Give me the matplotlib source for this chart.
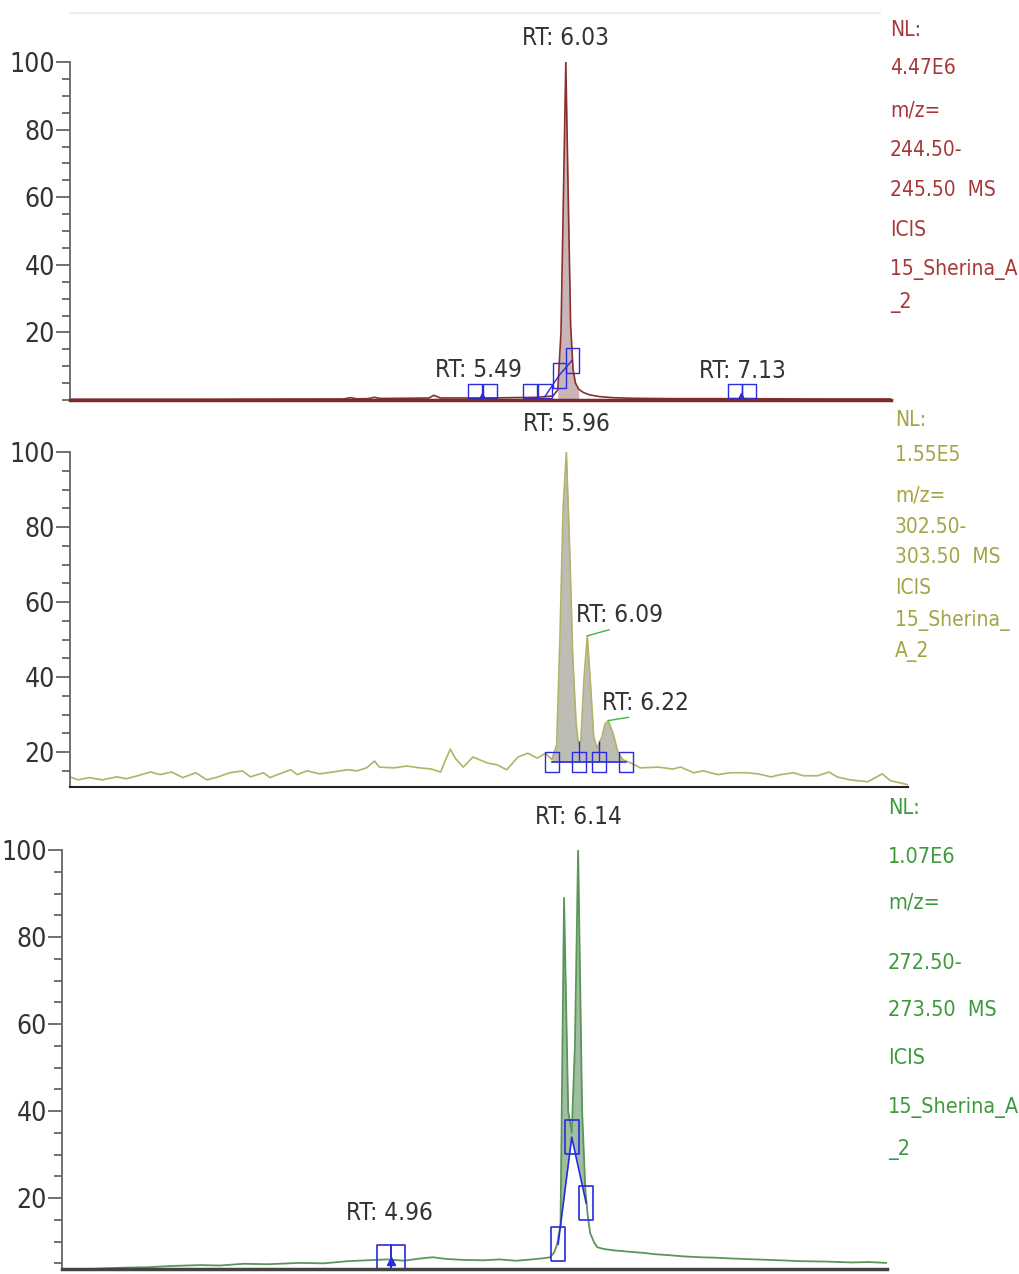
import numpy as np
import matplotlib.pyplot as plt
from matplotlib.lines import Line2D
from matplotlib.ticker import MultipleLocator

plt.rcParams['font.family'] = ['DejaVu Sans']
plt.rcParams['font.stretch'] = 'condensed'

W, H = 1019, 1274

# ---- panel 1: m/z 244.50-245.50
t1 = [2.95, 3.3, 3.7, 4.1, 4.5, 4.65, 4.69, 4.73, 4.8, 4.84, 4.88, 5.0, 5.1, 5.18, 5.21,
      5.25, 5.35, 5.45, 5.55, 5.7, 5.85, 5.95, 5.98, 6.0, 6.015, 6.03, 6.045, 6.06, 6.075,
      6.09, 6.11, 6.14, 6.18, 6.24, 6.32, 6.45, 6.7, 7.0, 7.3, 7.6, 7.9, 8.05]
i1 = [0.2, 0.2, 0.2, 0.25, 0.3, 0.3, 0.7, 0.35, 0.4, 0.8, 0.45, 0.5, 0.55, 0.6, 1.4,
      0.6, 0.6, 0.6, 0.6, 0.7, 0.8, 1.2, 3, 20, 60, 100, 60, 22, 9,
      5, 3.2, 2.2, 1.5, 1.0, 0.7, 0.5, 0.4, 0.4, 0.35, 0.3, 0.3, 0.3]
rt1 = [5.49, 6.03, 7.13]
rt1_y = [0.6, 100, 0.4]
box1_t = [5.465, 5.56, 5.806, 5.90, 7.08, 7.17]
box1_y = [2.7, 2.7, 2.7, 2.7, 2.7, 2.7]
box1_peak_t = [5.99, 6.07]
box1_peak_y = [7.4, 11.8]
info1 = ['NL:', '4.47E6', 'm/z=', '244.50-', '245.50  MS', 'ICIS', '15_Sherina_A', '_2']

# ---- panel 2: m/z 302.50-303.50
t2 = [2.88, 2.93, 3.00, 3.08, 3.17, 3.23, 3.30, 3.38, 3.44, 3.51, 3.58, 3.66, 3.73, 3.80,
      3.87, 3.95, 4.00, 4.08, 4.12, 4.18, 4.25, 4.29, 4.35, 4.43, 4.51, 4.60, 4.66, 4.72,
      4.77, 4.80, 4.89, 4.97, 5.05, 5.12, 5.18, 5.21, 5.24, 5.27, 5.32, 5.38, 5.47, 5.53,
      5.59, 5.66, 5.72, 5.78, 5.83, 5.87, 5.90, 5.92, 5.94, 5.96, 5.98, 6.00, 6.02, 6.035,
      6.05, 6.07, 6.09, 6.11, 6.13, 6.15, 6.18, 6.20, 6.22, 6.25, 6.28, 6.31, 6.36, 6.42,
      6.53, 6.62, 6.67, 6.75, 6.81, 6.90, 6.98, 7.08, 7.15, 7.23, 7.29, 7.37, 7.43, 7.52,
      7.59, 7.64, 7.72, 7.83, 7.92, 7.97, 8.05, 8.08]
i2 = [13.4, 12.6, 13.2, 12.6, 13.4, 12.9, 13.7, 14.7, 14.0, 14.7, 13.2, 14.5, 12.6, 13.4,
      14.5, 15.0, 13.4, 14.5, 13.2, 14.2, 15.3, 14.0, 15.0, 14.2, 14.7, 15.3, 15.0, 15.8,
      17.6, 16.0, 15.8, 16.3, 15.8, 15.5, 14.7, 17.9, 20.8, 18.4, 16.0, 18.7, 17.1, 16.6,
      15.3, 18.7, 19.7, 18.4, 19.7, 18.0, 22, 50, 85, 100, 75, 45, 28, 22,
      23, 40, 51, 38, 24, 21, 24, 27.5, 28.4, 25, 20, 18, 17.1, 15.8,
      16.0, 15.5, 16.0, 14.5, 15.0, 14.0, 14.5, 14.5, 14.2, 13.4, 14.0, 14.5, 13.7, 13.7,
      14.7, 13.4, 12.6, 12.1, 14.2, 12.4, 11.6, 11.3]
rt2 = [5.96, 6.09, 6.22]
rt2_y = [100, 51, 28.4]
box2_t = [5.87, 6.04, 6.16, 6.33]
box2_y = [17.4, 17.4, 17.4, 17.4]
info2 = ['NL:', '1.55E5', 'm/z=', '302.50-', '303.50  MS', 'ICIS', '15_Sherina_', 'A_2']

# ---- panel 3: m/z 272.50-273.50
t3 = [2.915, 3.0, 3.15, 3.3, 3.45, 3.6, 3.78, 3.9, 4.05, 4.2, 4.4, 4.55, 4.7, 4.82, 4.95,
      5.05, 5.15, 5.23, 5.32, 5.42, 5.55, 5.65, 5.75, 5.85, 5.93, 5.965, 5.99, 6.01, 6.03,
      6.052, 6.078, 6.10, 6.12, 6.14, 6.165, 6.185, 6.20, 6.215, 6.24, 6.26, 6.30, 6.36,
      6.42, 6.48, 6.55, 6.62, 6.70, 6.80, 6.90, 7.0, 7.11, 7.25, 7.4, 7.53, 7.7, 7.85,
      7.95, 8.07]
i3 = [3.4, 3.5, 3.8, 4.0, 4.1, 4.4, 4.6, 4.5, 4.9, 4.8, 5.1, 5.0, 5.5, 5.7, 5.9,
      5.6, 6.1, 6.4, 6.0, 5.8, 5.7, 5.9, 5.6, 5.9, 6.2, 6.4, 7.5, 9.5, 14,
      89, 40, 35, 55, 100, 40, 22, 16, 12, 9.8, 8.7, 8.3, 8.0,
      7.8, 7.6, 7.4, 7.1, 6.9, 6.6, 6.4, 6.3, 6.1, 5.9, 5.7, 5.5, 5.4, 5.2,
      5.3, 5.1]
rt3 = [4.96, 6.14]
rt3_y = [6.0, 100]
box3_t = [4.927, 5.015]
box3_y = [6.0, 6.0]
box3_peak_t = [6.015, 6.10, 6.19]
box3_peak_y = [9.4, 34, 18.9]
info3 = ['NL:', '1.07E6', 'm/z=', '272.50-', '273.50  MS', 'ICIS', '15_Sherina_A', '_2']

BLUE = '#2a2ae0'


def rect(a):
    # tall open rectangle marker, width a relative to height
    return [(-a, -1), (a, -1), (a, 1), (-a, 1), (-a, -1)]


def make_axes(fig, x0, x1, y0, y1, tmin, tmax, ymin):
    ax = fig.add_axes([x0 / W, 1 - y1 / H, (x1 - x0) / W, (y1 - y0) / H])
    ax.set_xlim(tmin, tmax)
    ax.set_ylim(ymin, 100)
    for s in ['top', 'right']:
        ax.spines[s].set_visible(False)
    ax.spines['left'].set_color('#666666')
    ax.spines['left'].set_linewidth(1.3)
    ax.set_xticks([])
    ax.set_yticks([20, 40, 60, 80, 100])
    ax.yaxis.set_minor_locator(MultipleLocator(5))
    ax.tick_params(axis='y', which='major', length=10, width=1.3, color='#666666',
                   labelsize=19, labelcolor='#333333', pad=1)
    ax.tick_params(axis='y', which='minor', length=6, width=1.3, color='#666666')
    ax.patch.set_alpha(0)
    return ax


def rt_label(ax, t, y, dy, dx=0, size=17.5):
    ax.annotate(f'RT: {t:.2f}', xy=(t, y), xytext=(dx, dy), textcoords='offset points',
                ha='center', va='center', fontsize=size, color='#333333',
                annotation_clip=False)


def info_text(fig, lines, x, ys, color, size):
    for s, y in zip(lines, ys):
        fig.text(x / W, 1 - y / H, s, color=color, fontsize=size, va='center', ha='left')


fig = plt.figure(figsize=(W / 100, H / 100), dpi=100)
fig.patch.set_facecolor('white')

# faint frame line above the first trace
fig.add_artist(Line2D([70 / W, 880 / W], [1 - 13 / H, 1 - 13 / H], color='#eeeeee', lw=1.5))

# ---- panel 1
ax1 = make_axes(fig, 70, 891, 62, 400, 2.95, 8.05, 0)
t = np.array(t1)
v = np.array(i1)
m = (t >= 5.97) & (t <= 6.12)
ax1.fill_between(t[m], 0, v[m], color='#c9b5b5', lw=0)
ax1.plot(t1, i1, color='#8b2e2e', lw=1.2)
ax1.spines['bottom'].set_color('#7a2a2a')
ax1.spines['bottom'].set_linewidth(2.5)
ax1.plot(box1_t, box1_y, ls='none', marker='s', ms=10, mfc='none', mec=BLUE, mew=1)
ax1.plot(box1_peak_t, box1_peak_y, color=BLUE, lw=1, marker=rect(0.52), ms=18,
         mfc='none', mec=BLUE, mew=1)
ax1.plot([5.90, 5.99], [1.0, 7.4], color=BLUE, lw=1)
ax1.plot([5.508, 7.12], [1.0, 1.0], ls='none', marker='^', ms=6, color=BLUE)
for rt, y, dy in zip(rt1, rt1_y, [20, 17, 20]):
    rt_label(ax1, rt, y, dy)
info_text(fig, info1, 890, [30, 68, 110, 150, 190, 230, 270, 303], '#a83838', 15)

# ---- panel 2
ax2 = make_axes(fig, 70, 908, 452, 787, 2.88, 8.08, 10.7)
t = np.array(t2)
v = np.array(i2)
m = (t >= 5.87) & (t <= 6.33)
ax2.fill_between(t[m], 17.4, v[m], color='#bdbdb6', lw=0)
ax2.plot(t2, i2, color='#b2b268', lw=1.2)
ax2.spines['bottom'].set_color('#222222')
ax2.spines['bottom'].set_linewidth(1.5)
ax2.plot([box2_t[0], box2_t[-1]], [box2_y[0], box2_y[-1]], color=BLUE, lw=1.2)
ax2.vlines(box2_t[1:3], 17.4, 23, color=BLUE, lw=1)
ax2.plot(box2_t, box2_y, ls='none', marker=rect(0.67), ms=15, mfc='none', mec=BLUE, mew=1)
rt_label(ax2, rt2[0], rt2_y[0], 20)
for rt, y, off in zip(rt2[1:], rt2_y[1:], [(23, 15), (27, 13)]):
    ax2.annotate(f'RT: {rt:.2f}', xy=(rt, y), xytext=off, textcoords='offset points',
                 ha='center', va='center', fontsize=17.5, color='#333333',
                 arrowprops=dict(arrowstyle='-', color='#3cb83c', lw=1, shrinkA=0,
                                 shrinkB=0, relpos=(0.5, 0.0)),
                 annotation_clip=False)
info_text(fig, info2, 895, [420, 455, 495, 527, 557, 588, 620, 652], '#a4a444', 15)

# ---- panel 3
ax3 = make_axes(fig, 62, 887, 850, 1269, 2.915, 8.07, 3.7)
t = np.array(t3)
v = np.array(i3)
m = (t >= 6.015) & (t <= 6.19)
ax3.fill_between(t[m], np.interp(t[m], box3_peak_t, box3_peak_y), v[m],
                 color='#9fbd9f', lw=0)
ax3.plot(t3, i3, color='#5a955a', lw=1.3)
ax3.spines['bottom'].set_color('#444444')
ax3.spines['bottom'].set_linewidth(2.5)
ax3.plot(box3_peak_t, box3_peak_y, color=BLUE, lw=1.2, marker=rect(0.42), ms=24,
         mfc='none', mec=BLUE, mew=1.2)
ax3.plot(box3_t, box3_y, ls='none', marker=rect(0.5), ms=20, mfc='none', mec=BLUE, mew=1.2)
ax3.plot([4.97], [5.5], ls='none', marker='^', ms=6, color=BLUE)
for rt, y, dy in zip(rt3, rt3_y, [33, 24]):
    rt_label(ax3, rt, y, dy)
info_text(fig, info3, 888, [808, 857, 903, 963, 1010, 1058, 1107, 1150], '#3c9a3c', 15.5)

fig.savefig('out.png', dpi=100, facecolor='white')
